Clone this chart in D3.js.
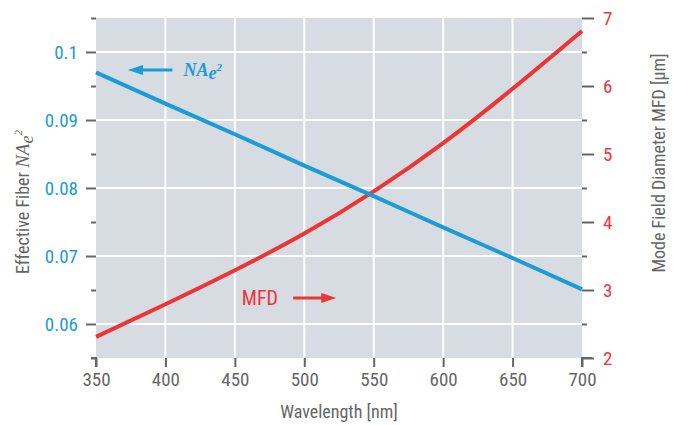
<!DOCTYPE html>
<html>
<head>
<meta charset="utf-8">
<style>
  body { margin: 0; background: #fff; }
  svg text { font-family: "Liberation Sans Narrow", "Roboto Condensed", Roboto, sans-serif; }
</style>
</head>
<body>
<svg id="chart"></svg>
<script src="https://d3js.org/d3.v7.min.js"></script>
<script>
const width = 679, height = 425;
const margin = {top: 18, right: 97, bottom: 67, left: 96};

// data
const wavelengths = [350, 400, 450, 500, 550, 600, 650, 700];
const naValues = [0.0970, 0.0924, 0.0879, 0.0833, 0.0788, 0.0742, 0.0697, 0.0651];
const mfdValues = [2.31, 2.79, 3.29, 3.83, 4.45, 5.16, 5.96, 6.81];
const xTicks = [350, 400, 450, 500, 550, 600, 650, 700];
const naTicks = [0.06, 0.07, 0.08, 0.09, 0.1];
const naMinor = [0.055, 0.065, 0.075, 0.085, 0.095, 0.105];
const mfdTicks = [2, 3, 4, 5, 6, 7];
const mfdMinor = [2.5, 3.5, 4.5, 5.5, 6.5];

const blue = "#1b9bd8", red = "#ee3535", grey = "#666";

const svg = d3.select("#chart").attr("width", width).attr("height", height);
const iw = width - margin.left - margin.right;
const ih = height - margin.top - margin.bottom;
const g = svg.append("g").attr("transform", `translate(${margin.left},${margin.top})`);

const x = d3.scaleLinear().domain([350, 700]).range([0, iw]);
const yL = d3.scaleLinear().domain([0.055, 0.105]).range([ih, 0]);
const yR = d3.scaleLinear().domain([2, 7]).range([ih, 0]);

g.append("rect").attr("width", iw).attr("height", ih).attr("fill", "#d7dce2");

// grid
g.append("g").selectAll("line").data(xTicks.slice(1, -1)).join("line")
  .attr("x1", d => x(d)).attr("x2", d => x(d)).attr("y1", 0).attr("y2", ih)
  .attr("stroke", "#fff").attr("stroke-width", 2);
g.append("g").selectAll("line").data(naTicks).join("line")
  .attr("x1", 0).attr("x2", iw).attr("y1", d => yL(d)).attr("y2", d => yL(d))
  .attr("stroke", "#fff").attr("stroke-width", 2);

function styleAxis(sel, color, size) {
  sel.select(".domain").remove();
  sel.selectAll(".tick line").attr("stroke", grey).attr("stroke-width", 2);
  sel.selectAll(".tick text").attr("fill", color).attr("font-size", size);
}

// x axis
g.append("g").attr("transform", `translate(0,${ih})`)
  .call(d3.axisBottom(x).tickValues(xTicks).tickSize(9).tickPadding(6).tickFormat(d3.format("d")))
  .call(s => styleAxis(s, grey, 19));

// left axis
g.append("g")
  .call(d3.axisLeft(yL).tickValues(naMinor).tickSize(5).tickFormat(""))
  .call(s => styleAxis(s, blue, 19));
g.append("g")
  .call(d3.axisLeft(yL).tickValues(naTicks).tickSize(10).tickPadding(8).tickFormat(d => d === 0.1 ? "0.1" : d3.format(".2f")(d)))
  .call(s => styleAxis(s, blue, 19));

// right axis
g.append("g").attr("transform", `translate(${iw},0)`)
  .call(d3.axisRight(yR).tickValues(mfdMinor).tickSize(5).tickFormat(""))
  .call(s => styleAxis(s, red, 19));
g.append("g").attr("transform", `translate(${iw},0)`)
  .call(d3.axisRight(yR).tickValues(mfdTicks).tickSize(12).tickPadding(9).tickFormat(d3.format("d")))
  .call(s => styleAxis(s, red, 19));

// corner stubs joining the bottom ticks
g.append("path").attr("d", `M-5,${ih}H0V${ih + 9}M${iw},${ih + 9}V${ih}H${iw + 10}`)
  .attr("fill", "none").attr("stroke", grey).attr("stroke-width", 2);

// lines
const lineNA = d3.line().x((d, i) => x(wavelengths[i])).y(d => yL(d)).curve(d3.curveMonotoneX);
const lineMFD = d3.line().x((d, i) => x(wavelengths[i])).y(d => yR(d)).curve(d3.curveNatural);
g.append("path").datum(mfdValues).attr("d", lineMFD)
  .attr("fill", "none").attr("stroke", red).attr("stroke-width", 4);
g.append("path").datum(naValues).attr("d", lineNA)
  .attr("fill", "none").attr("stroke", blue).attr("stroke-width", 4);

// annotations with arrows
function arrow(x1, x2, y, color) {
  const dir = Math.sign(x2 - x1);
  g.append("line").attr("x1", x(x1)).attr("x2", x(x2) - dir * 12)
    .attr("y1", y).attr("y2", y).attr("stroke", color).attr("stroke-width", 3);
  const tip = x(x2);
  g.append("path")
    .attr("d", `M${tip},${y}L${tip - dir * 15},${y - 5}L${tip - dir * 15},${y + 5}Z`)
    .attr("fill", color);
}
arrow(405, 373, 70 - margin.top, blue);
arrow(492, 523, 298 - margin.top, red);

const serif = "'Liberation Serif', 'DejaVu Serif', serif";
const naLabel = g.append("text").attr("x", x(413)).attr("y", 76 - margin.top)
  .attr("fill", blue).attr("font-size", 18).attr("font-weight", "bold").attr("font-style", "italic")
  .style("font-family", serif);
naLabel.append("tspan").text("NA");
naLabel.append("tspan").attr("dy", 3).attr("font-size", 18).text("e");
naLabel.append("tspan").attr("dy", -8).attr("font-size", 11).text("2");

g.append("text").attr("x", x(455)).attr("y", 305 - margin.top)
  .attr("fill", red).attr("font-size", 20).text("MFD");

// axis titles
svg.append("text").attr("x", margin.left + iw / 2).attr("y", 418)
  .attr("text-anchor", "middle").attr("fill", grey).attr("font-size", 18)
  .text("Wavelength [nm]");

const lt = svg.append("text").attr("transform", "translate(29,202) rotate(-90)")
  .attr("text-anchor", "middle").attr("fill", grey).attr("font-size", 18);
lt.append("tspan").text("Effective Fiber ");
lt.append("tspan").style("font-family", serif).attr("font-style", "italic").attr("font-size", 19).text("NA");
lt.append("tspan").style("font-family", serif).attr("font-style", "italic").attr("font-size", 18).attr("dy", 4).text("e");
lt.append("tspan").style("font-family", serif).attr("font-style", "italic").attr("font-size", 11).attr("dy", -11).text("2");

svg.append("text").attr("transform", "translate(665,163) rotate(-90)")
  .attr("text-anchor", "middle").attr("fill", grey).attr("font-size", 18)
  .text("Mode Field Diameter MFD [µm]");
</script>
</body>
</html>
